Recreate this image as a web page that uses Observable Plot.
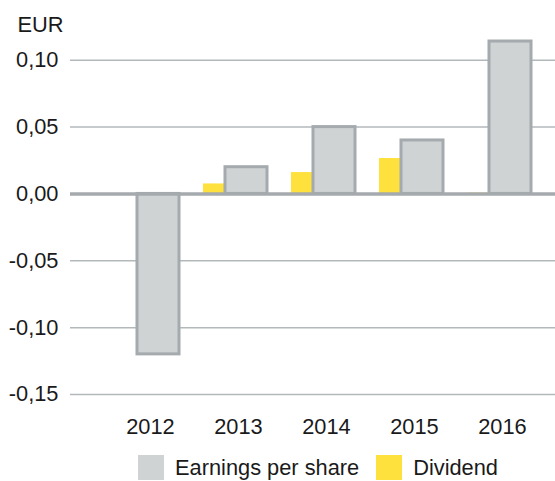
<!DOCTYPE html>
<html>
<head>
<meta charset="utf-8">
<script src="https://cdn.jsdelivr.net/npm/d3@7"></script>
<script src="https://cdn.jsdelivr.net/npm/@observablehq/plot@0.6"></script>
<style>
  html, body { margin: 0; padding: 0; background: #fff; }
  #chart svg { display: block; }
  .legend { display: flex; align-items: center; padding-left: 138px; margin-top: 10px;
            font-family: "Liberation Sans", Arial, sans-serif; font-size: 21.8px; color: #1a1a1a; height: 25px; }
  .sw { width: 26px; height: 25px; display: inline-block; margin-right: 11px; }
  .item { display: flex; align-items: center; margin-right: 17px; }
</style>
</head>
<body>
<div id="chart"></div>
<div class="legend">
  <span class="item"><span class="sw" style="background:#cfd3d4"></span>Earnings per share</span>
  <span class="item"><span class="sw" style="background:#ffe13e"></span>Dividend</span>
</div>
<script>
const years = ["2012", "2013", "2014", "2015", "2016"];
const eps = [-0.12, 0.02, 0.05, 0.04, 0.114];
const dividend = [0, 0.0075, 0.016, 0.0265, 0.0006];
const yTicks = [-0.15, -0.10, -0.05, 0, 0.05, 0.10];

const data = years.map((year, i) => ({year, eps: eps[i], dividend: dividend[i]}));
const fmt = v => v.toFixed(2).replace(".", ",");

const chart = Plot.plot({
  width: 555,
  height: 445,
  marginLeft: 70,
  marginRight: 0,
  marginTop: 33,
  marginBottom: 51,
  style: {fontFamily: "Liberation Sans, Arial, sans-serif", fontSize: "21.8px", color: "#1a1a1a", background: "white"},
  x: {type: "band", domain: years, padding: 0, insetLeft: 36, insetRight: 9, label: null},
  y: {domain: [-0.15, 0.12], label: null},
  marks: [
    Plot.ruleY(yTicks.filter(d => d !== 0), {stroke: "#b3b9bb", strokeWidth: 1.5}),
    Plot.barY(data, {x: "year", y: "dividend", fill: "#ffe13e", insetLeft: 9, insetRight: 57}),
    Plot.barY(data, {x: "year", y: "eps", fill: "#cfd3d4", stroke: "#a4aaad", strokeWidth: 3, insetLeft: 31, insetRight: 15}),
    Plot.ruleY([0], {stroke: "#a4aaad", strokeWidth: 3.5}),
    Plot.axisY({ticks: yTicks, tickSize: 0, tickPadding: 12, tickFormat: fmt, fontSize: 21.8}),
    Plot.axisX({tickSize: 0, tickPadding: 24, fontSize: 21.8}),
    Plot.text(["EUR"], {frameAnchor: "top-left", dx: -53, dy: -8, textAnchor: "start", lineAnchor: "middle", fontSize: 21.8, fill: "#1a1a1a"})
  ]
});
document.getElementById("chart").appendChild(chart);
</script>
</body>
</html>
